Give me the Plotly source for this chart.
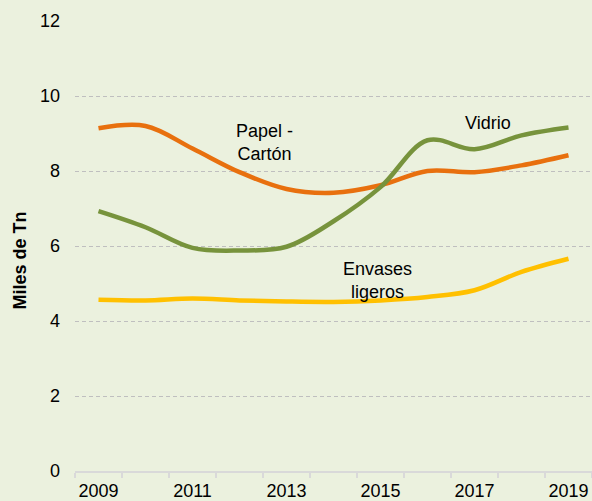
import plotly.graph_objects as go

years = [2009, 2010, 2011, 2012, 2013, 2014, 2015, 2016, 2017, 2018, 2019]
papel_carton = [9.14, 9.20, 8.60, 7.97, 7.52, 7.42, 7.62, 8.00, 7.97, 8.15, 8.42]
vidrio = [6.93, 6.50, 5.95, 5.88, 5.98, 6.66, 7.57, 8.82, 8.58, 8.95, 9.16]
envases_ligeros = [4.57, 4.55, 4.60, 4.55, 4.52, 4.51, 4.55, 4.64, 4.82, 5.31, 5.66]

label_years = [2009, 2011, 2013, 2015, 2017, 2019]
boundary_ticks = [y - 0.5 for y in years] + [years[-1] + 0.5]
y_ticks = [0, 2, 4, 6, 8, 10, 12]

BG = "#EBF1DE"
FONT = "Liberation Sans, Arial, sans-serif"

fig = go.Figure()
series = [
    ("Papel - Cartón", papel_carton, "#E8700E"),
    ("Vidrio", vidrio, "#77933C"),
    ("Envases ligeros", envases_ligeros, "#FFC000"),
]
for name, vals, col in series:
    fig.add_trace(go.Scatter(
        x=years, y=vals, name=name, mode="lines",
        line=dict(color=col, width=4.5, shape="spline", smoothing=1),
        hoverinfo="x+y",
    ))

# invisible trace to activate the label axis
fig.add_trace(go.Scatter(x=years, y=vidrio, xaxis="x2", mode="lines",
                         line=dict(width=0), showlegend=False, hoverinfo="skip"))

fig.update_layout(
    template="none",
    width=592, height=501,
    paper_bgcolor=BG, plot_bgcolor=BG,
    margin=dict(l=75, r=0, t=21, b=30, autoexpand=False),
    showlegend=False,
    font=dict(family=FONT, size=18, color="#000000"),
    xaxis=dict(
        range=[2008.5, 2019.5], tickvals=boundary_ticks,
        ticktext=[""] * len(boundary_ticks), automargin=False,
        showgrid=False, zeroline=False,
        showline=True, linecolor="#D9D9D9", linewidth=1.5,
        ticks="outside", ticklen=5, tickcolor="#D9D9D9", tickwidth=1.5,
    ),
    xaxis2=dict(
        range=[2008.5, 2019.5], overlaying="x", side="bottom", automargin=False,
        tickvals=label_years, ticktext=[str(y) for y in label_years],
        showgrid=False, zeroline=False, showline=False, ticks="",
        ticklabelstandoff=7,
        tickfont=dict(family=FONT, size=18, color="#000000"),
    ),
    yaxis=dict(
        range=[0, 12], tickvals=y_ticks, automargin=False,
        showgrid=True, gridcolor="#BFBFBF", griddash="4px,3px", gridwidth=1,
        zeroline=False, showline=False, ticks="", ticklen=0,
        ticklabelstandoff=14,
        tickfont=dict(family=FONT, size=18, color="#000000"),
    ),
    annotations=[
        dict(text="Papel -<br>Cartón", x=2012.54, y=8.76, xref="x", yref="y",
             showarrow=False, font=dict(family=FONT, size=18, color="#000000")),
        dict(text="Vidrio", x=2017.29, y=9.29, xref="x", yref="y",
             showarrow=False, font=dict(family=FONT, size=18, color="#000000")),
        dict(text="Envases<br>ligeros", x=2014.93, y=5.08, xref="x", yref="y",
             showarrow=False, font=dict(family=FONT, size=18, color="#000000")),
        dict(text="<b>Miles de Tn</b>", x=-0.106, y=0.468, xref="paper", yref="paper",
             textangle=-90, showarrow=False, xanchor="center", yanchor="middle",
             font=dict(family=FONT, size=18, color="#000000")),
    ],
)

fig.write_html(
    "out.html",
    config={"displayModeBar": False},
    post_script="document.body.style.margin='0';document.body.style.background='%s';" % BG,
)
